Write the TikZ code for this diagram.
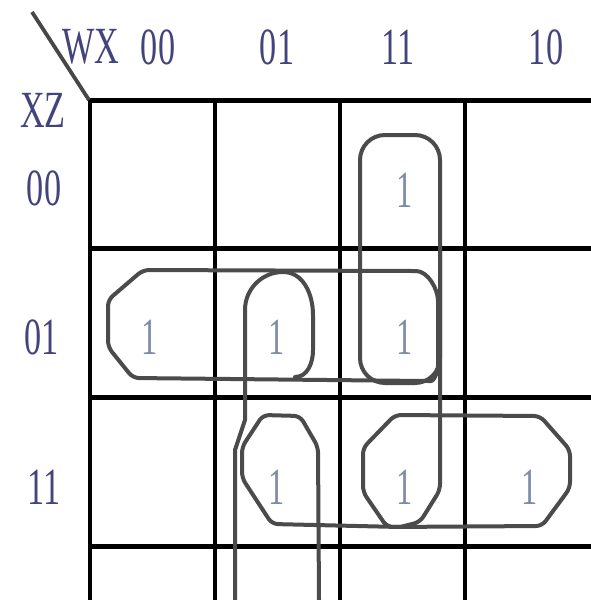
\documentclass[tikz,border=0pt]{standalone}
\usepackage{fontspec}
\setmainfont{Liberation Serif}
\definecolor{lblc}{RGB}{68,68,125}
\definecolor{onec}{RGB}{125,140,170}
\definecolor{loopc}{RGB}{75,75,75}
\begin{document}
\begin{tikzpicture}[x=1pt,y=-1pt,
  gridh/.style={line width=5pt,black},
  gridv/.style={line width=3.8pt,black},
  kloop/.style={line width=4pt,draw=loopc,line join=round,line cap=round},
  lbl/.style={font=\fontsize{36}{36}\selectfont,text=lblc,xscale=0.95,yscale=1.45,inner sep=0pt},
  one/.style={font=\fontsize{36}{36}\selectfont,text=onec,xscale=0.9,yscale=1.45,inner sep=0pt}]
\useasboundingbox (0,0) rectangle (591,600);
% grid
\foreach \y in {100,248,397,546} \draw[gridh] (90,\y) -- (591,\y);
\foreach \x in {90,215,340,465} \draw[gridv] (\x,98) -- (\x,600);
\draw[line width=3.8pt,black!72] (32,12) -- (89,100);
% labels
\node[lbl] (wx) at (91,47) {WX};
\node[lbl] (c00) at (158,47) {00};
\node[lbl] (c01) at (277,47) {01};
\node[lbl] (c11) at (398,47) {11};
\node[lbl] (c10) at (546,47) {10};
\node[lbl] (xz) at (43,110) {XZ};
\node[lbl] (r00) at (44,188) {00};
\node[lbl] (r01) at (42,337) {01};
\node[lbl] (r11) at (44,487) {11};
% ones
\node[one] (m1) at (405,190) {1};
\node[one] (m2) at (150,337) {1};
\node[one] (m3) at (277,337) {1};
\node[one] (m4) at (405,337) {1};
\node[one] (m5) at (277,487) {1};
\node[one] (m6) at (405,487) {1};
\node[one] (m7) at (530,487) {1};
% loops
\draw[kloop,rounded corners=25] (360,135) rectangle (440,383);
\draw[kloop,rounded corners=6] (143,270) -- (410,271) to[out=0,in=90] (438,307) -- (438,360) to[out=-90,in=0] (425,381) -- (133,378) -- (108,347) -- (108,300) -- cycle;
\draw[kloop] (245,378) -- (245,310) to[out=90,in=180] (283,272) to[out=0,in=90] (313,315) -- (313,350) to[out=-90,in=0] (295,377);
\draw[kloop] (245,378) -- (245,420) -- (235,450) -- (235,600);
\draw[kloop,rounded corners=6] (319,600) -- (318,447) -- (300,416) -- (263,415) -- (242,447) -- (242,478) -- (272,524) -- (400,527);
\draw[kloop,rounded corners=6] (395,415) -- (540,416) -- (570,450) -- (570,488) -- (542,526) -- (387,527) -- (363,492) -- (363,448) -- cycle;
\draw[kloop,rounded corners=6] (440,250) -- (440,490) -- (420,522) -- (400,527);
\end{tikzpicture}
\end{document}
